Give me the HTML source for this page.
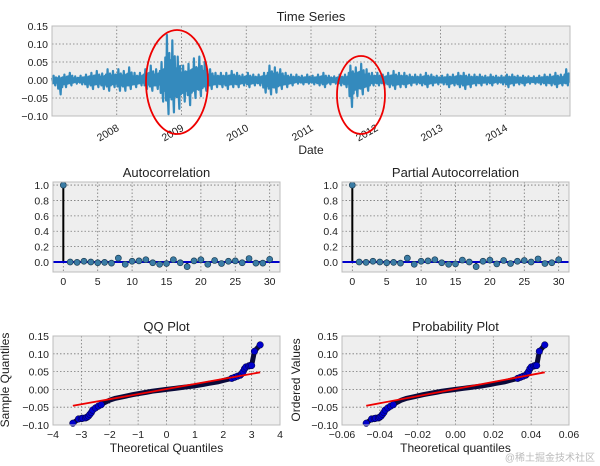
<!DOCTYPE html>
<html><head><meta charset="utf-8"><style>
html,body{margin:0;padding:0;background:#fff;}
svg{display:block;font-family:"Liberation Sans","DejaVu Sans",sans-serif;}
</style></head><body>
<svg id="fig" width="600" height="466" viewBox="0 0 600 466"></svg>
<script>
// ---- data ----
const tsYears = [2007,2008,2009,2010,2011,2012,2013,2014];
const tsHighs = [
.012,.01,.015,.02,.01,.012,.015,.02,.025,.018,.03,.025,
.03,.025,.035,.02,.02,.03,.04,.03,.05,.125,.11,.065,
.04,.045,.06,.065,.05,.03,.02,.02,.02,.025,.02,.015,
.02,.015,.015,.02,.04,.035,.03,.02,.015,.015,.012,.015,
.012,.015,.02,.012,.01,.015,.015,.04,.035,.045,.03,.02,
.02,.015,.02,.025,.02,.02,.015,.015,.015,.02,.015,.012,
.012,.015,.015,.02,.02,.015,.015,.015,.012,.015,.012,.012,
.015,.015,.012,.012,.01,.01,.012,.015,.015,.02,.015,.03];
const tsLows = [
-.015,-.04,-.02,-.015,-.01,-.012,-.02,-.025,-.02,-.025,-.03,-.02,
-.03,-.03,-.025,-.02,-.015,-.025,-.03,-.025,-.06,-.095,-.09,-.08,
-.06,-.07,-.05,-.045,-.03,-.025,-.02,-.02,-.025,-.02,-.02,-.015,
-.02,-.015,-.015,-.035,-.04,-.035,-.025,-.02,-.015,-.01,-.012,-.01,
-.012,-.015,-.02,-.012,-.01,-.015,-.02,-.075,-.045,-.04,-.03,-.015,
-.015,-.015,-.02,-.025,-.02,-.02,-.015,-.012,-.015,-.02,-.015,-.012,
-.012,-.02,-.015,-.02,-.025,-.02,-.015,-.015,-.012,-.015,-.01,-.012,
-.02,-.015,-.012,-.015,-.01,-.01,-.012,-.015,-.015,-.02,-.015,-.015];
const tsYTicks = [0.15,0.10,0.05,0.00,-0.05,-0.10];
const acfVals = [1.0,0.0,-0.005,0.01,0.0,-0.01,-0.005,-0.015,0.05,-0.03,0.01,0.015,0.03,-0.01,-0.03,-0.02,0.03,-0.01,-0.06,0.015,0.03,-0.03,0.02,-0.02,0.01,0.015,-0.01,0.045,-0.015,-0.015,0.035];
const pacfVals = [1.0,0.0,-0.005,0.01,0.0,-0.01,-0.005,-0.015,0.05,-0.03,0.01,0.015,0.03,-0.01,-0.03,-0.025,0.025,0.0,-0.06,0.01,0.025,-0.025,0.02,-0.02,0.01,0.02,0.0,0.04,-0.02,-0.01,0.03];
const corrYTicks = [1.0,0.8,0.6,0.4,0.2,0.0];
const lagTicks = [0,5,10,15,20,25,30];
const qqTheo = [-3.3,-3.1,-3.0,-2.95,-2.85,-2.8,-2.75,-2.7,-2.65,-2.6,-2.5,-2.4,-2.3,-2.2,-2.1,-2.0,-1.8,-1.5,-1.2,-1.0,-0.7,-0.5,-0.2,0,0.3,0.5,0.8,1.0,1.3,1.5,1.8,2.0,2.2,2.3,2.4,2.5,2.6,2.65,2.7,2.75,2.8,2.9,2.95,3.0,3.1,3.3];
const qqSample = [-0.095,-0.083,-0.082,-0.081,-0.08,-0.078,-0.075,-0.07,-0.065,-0.058,-0.052,-0.047,-0.043,-0.038,-0.034,-0.03,-0.025,-0.02,-0.015,-0.012,-0.008,-0.005,-0.002,0.0,0.003,0.005,0.008,0.01,0.014,0.017,0.021,0.025,0.029,0.031,0.034,0.037,0.04,0.044,0.05,0.058,0.063,0.066,0.067,0.067,0.107,0.125];
const qqLine = [[-3.3,-0.046],[3.3,0.048]];
const probScale = 0.0143;
const qqXTicks = [-4,-3,-2,-1,0,1,2,3,4];
const probXTicks = [-0.06,-0.04,-0.02,0.00,0.02,0.04,0.06];
const qqYTicks = [0.15,0.10,0.05,0.00,-0.05,-0.10];

const NS="http://www.w3.org/2000/svg";
const svg=document.getElementById('fig');
function el(tag,attrs,parent){const e=document.createElementNS(NS,tag);for(const k in attrs)e.setAttribute(k,attrs[k]);(parent||svg).appendChild(e);return e;}
function txt(s,attrs,parent){const t=el('text',attrs,parent);t.textContent=s;return t;}
function lin(d0,d1,r0,r1){return v=>r0+(v-d0)/(d1-d0)*(r1-r0);}

function axesBox(name,L,T,R,B,title){
  const g=el('g',{});
  
  
  const bg=el('rect',{x:L,y:T,width:R-L,height:B-T,fill:'#eeeeee'},g);
  
  
  const t=txt(title,{x:(L+R)/2,y:T-5,'text-anchor':'middle','font-size':13,fill:'#222'},g);
  
  
  return g;
}
function frame(g,L,T,R,B){el('rect',{x:L,y:T,width:R-L,height:B-T,fill:'none',stroke:'#bcbcbc','stroke-width':1},g);}
function hgrid(g,L,R,y){el('line',{x1:L,x2:R,y1:y,y2:y,stroke:'#777','stroke-width':0.8,'stroke-dasharray':'1.5,2'},g);}
function vgrid(g,T,B,x){el('line',{x1:x,x2:x,y1:T,y2:B,stroke:'#777','stroke-width':0.8,'stroke-dasharray':'1.5,2'},g);}
function fmt2(v){return (v<0?'\u2212':'')+Math.abs(v).toFixed(2);}

// ---- Time series ----
(function(){
  const L=52,T=26,R=570,B=116;
  const g=axesBox('time-series-plot',L,T,R,B,'Time Series');
  const x=lin(2007,2015,L,R), y=lin(-0.10,0.15,B,T);
  tsYTicks.forEach(v=>{hgrid(g,L,R,y(v));const t=txt(fmt2(v),{x:L-4,y:y(v)+4,'text-anchor':'end','font-size':10.5,fill:'#222'},g);});
  tsYears.slice(1).forEach(yr=>{vgrid(g,T,B,x(yr));const t=txt(String(yr),{x:x(yr)+3,y:B+14,'text-anchor':'end','font-size':10.5,fill:'#222',transform:`rotate(-30 ${x(yr)+3} ${B+14})`},g);});
  let pts=[];
  tsHighs.forEach((h,i)=>{const lo=tsLows[i];const x0=x(2007+i/12),w=x(2007+(i+1)/12)-x0;
    pts.push([x0,y(h*0.5)],[x0+w*0.15,y(lo*0.6)],[x0+w*0.3,y(h)],[x0+w*0.45,y(lo*0.4)],[x0+w*0.6,y(lo)],[x0+w*0.75,y(h*0.6)],[x0+w*0.9,y(lo*0.5)]);});
  const p=el('polyline',{points:pts.map(q=>q.join(',')).join(' '),fill:'none',stroke:'#348abd','stroke-width':2.2,'stroke-linejoin':'round'},g);
  
  
  frame(g,L,T,R,B);
  const xl=txt('Date',{x:311,y:154,'text-anchor':'middle','font-size':12,fill:'#222'},g);
  
  
  const c1=el('ellipse',{cx:177,cy:82,rx:31,ry:52,fill:'none',stroke:'#e00','stroke-width':1.8},g);
  
  
  const c2=el('ellipse',{cx:361,cy:95,rx:24,ry:39,fill:'none',stroke:'#e00','stroke-width':1.8},g);
  
  
})();

// ---- ACF / PACF ----
function corrPlot(name,title,vals,L,R){
  const T=182,B=272;
  const g=axesBox(name,L,T,R,B,title);
  const x=lin(-1.5,31.5,L,R), y=lin(-0.13,1.04,B,T);
  corrYTicks.forEach(v=>{hgrid(g,L,R,y(v));const t=txt(v.toFixed(1),{x:L-4,y:y(v)+4,'text-anchor':'end','font-size':10.5,fill:'#222'},g);});
  lagTicks.forEach(v=>{vgrid(g,T,B,x(v));const t=txt(String(v),{x:x(v),y:B+13,'text-anchor':'middle','font-size':10.5,fill:'#222'},g);});
  vals.forEach((v,i)=>{
    const s=el('line',{x1:x(i),x2:x(i),y1:y(0),y2:y(v),stroke:'#000','stroke-width':2},g);
    
    
  });
  const z=el('line',{x1:L,x2:R,y1:y(0),y2:y(0),stroke:'#0000cc','stroke-width':2},g);
  
  
  vals.forEach((v,i)=>{
    const c=el('circle',{cx:x(i),cy:y(v),r:3,fill:'#3a7ca5',stroke:'#1d3f55','stroke-width':0.7},g);
    
    
  });
  frame(g,L,T,R,B);
}
corrPlot('autocorrelation-plot','Autocorrelation',acfVals,53,280);
corrPlot('partial-autocorrelation-plot','Partial Autocorrelation',pacfVals,342,569);

// ---- QQ / Probability ----
function qqPlot(name,title,L,R,xd0,xd1,xticks,scale,xlab,ylab,ylx,xfmt){
  const T=336,B=425;
  const g=axesBox(name,L,T,R,B,title);
  const x=lin(xd0,xd1,L,R), yy=lin(-0.10,0.15,B,T);
  qqYTicks.forEach(v=>{hgrid(g,L,R,yy(v));const t=txt(fmt2(v),{x:L-4,y:yy(v)+4,'text-anchor':'end','font-size':10.5,fill:'#222'},g);});
  xticks.forEach(v=>{vgrid(g,T,B,x(v));const t=txt(xfmt(v),{x:x(v),y:B+13,'text-anchor':'middle','font-size':10.5,fill:'#222'},g);});
  const pl=el('polyline',{points:qqTheo.map((q,i)=>x(q*scale)+','+yy(qqSample[i])).join(' '),fill:'none',stroke:'#0a0a3a','stroke-width':5,'stroke-linejoin':'round'},g);
  
  
  qqTheo.forEach((q,i)=>{
    if(Math.abs(q)<2.3) return;
    const c=el('circle',{cx:x(q*scale),cy:yy(qqSample[i]),r:3.3,fill:'#0000cc',stroke:'#000033','stroke-width':0.5},g);
    
    
  });
  const rl=el('line',{x1:x(qqLine[0][0]*scale),y1:yy(qqLine[0][1]),x2:x(qqLine[1][0]*scale),y2:yy(qqLine[1][1]),stroke:'#e00','stroke-width':1.8},g);
  
  
  frame(g,L,T,R,B);
  const xt=txt(xlab,{x:(L+R)/2,y:452,'text-anchor':'middle','font-size':12,fill:'#222'},g);
  
  
  const yt=txt(ylab,{x:ylx,y:380,'text-anchor':'middle','font-size':12,fill:'#222',transform:`rotate(-90 ${ylx} 380)`},g);
  
  
}
qqPlot('qq-plot','QQ Plot',53,280,-4,4,qqXTicks,1,'Theoretical Quantiles','Sample Quantiles',9,v=>(v<0?'\u2212':'')+Math.abs(v));
qqPlot('probability-plot','Probability Plot',342,569,-0.06,0.06,probXTicks,probScale,'Theoretical quantiles','Ordered Values',300,v=>(v<0?'\u2212':'')+Math.abs(v).toFixed(2));

const wm=txt('@稀土掘金技术社区',{x:595,y:461,'text-anchor':'end','font-size':10,fill:'#bbb','font-family':'"Liberation Sans","Noto Sans CJK SC",sans-serif'});


</script>
</body></html>
